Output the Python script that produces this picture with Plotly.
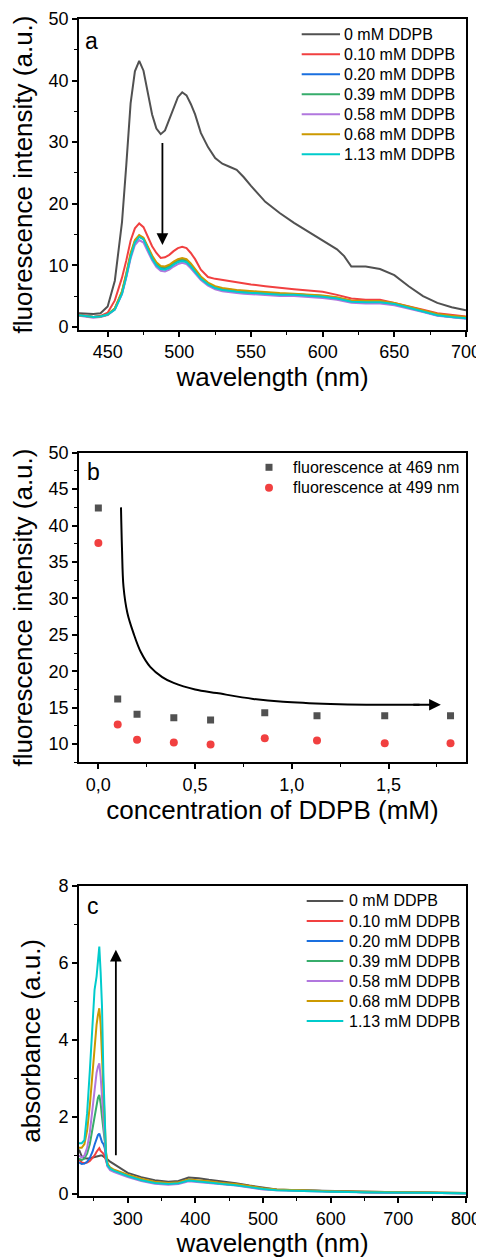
import plotly.graph_objects as go

FONT = "Liberation Sans, Arial, sans-serif"
COLORS = ["#515151", "#F14040", "#1A6FDF", "#37AD6B", "#B177DE", "#CC9900", "#00CBCC"]
LABELS = ["0 mM DDPB", "0.10 mM DDPB", "0.20 mM DDPB", "0.39 mM DDPB",
          "0.58 mM DDPB", "0.68 mM DDPB", "1.13 mM DDPB"]

# ---------- panel a: fluorescence spectra ----------
wl_a = [430, 440, 445, 450, 455, 460, 463, 466, 469, 472, 475, 478, 481, 484, 487, 490,
        493, 496, 499, 502, 505, 508, 511, 515, 520, 525, 530, 535, 540, 545, 550, 560,
        570, 580, 590, 600, 610, 615, 620, 630, 640, 650, 660, 670, 680, 690, 700]
fl_0 = [2.2, 2.1, 2.2, 3.3, 7.5, 17.0, 26.3, 36.3, 41.5, 43.2, 41.6, 37.8, 34.5, 32.2, 31.3, 31.9,
        33.6, 35.6, 37.3, 38.1, 37.6, 36.2, 34.5, 31.5, 29.2, 27.4, 26.5, 26.0, 25.5, 24.3, 22.9, 20.3,
        18.5, 16.9, 15.5, 14.0, 12.6, 11.5, 9.8, 9.8, 9.4, 8.4, 6.6, 5.0, 3.9, 3.2, 2.7]
fl_010 = [2.0, 1.6, 1.8, 2.3, 4.3, 8.0, 10.8, 14.0, 16.0, 16.8, 16.2, 14.6, 13.1, 12.0, 11.2, 11.3,
          11.7, 12.3, 12.8, 13.0, 12.8, 12.0, 11.0, 9.3, 8.1, 7.8, 7.6, 7.5, 7.3, 7.1, 6.9, 6.6,
          6.3, 6.1, 5.9, 5.7, 5.2, 4.9, 4.6, 4.4, 4.4, 3.9, 3.4, 2.8, 2.2, 1.9, 1.7]
fl_020 = [1.9, 1.6, 1.7, 2.0, 2.9, 5.5, 8.3, 11.5, 13.8, 14.7, 14.3, 12.8, 11.3, 10.2, 9.6, 9.5,
          9.8, 10.3, 10.7, 10.9, 10.7, 10.0, 9.1, 7.9, 7.0, 6.5, 6.2, 6.0, 5.9, 5.8, 5.7, 5.5,
          5.4, 5.3, 5.2, 5.0, 4.7, 4.5, 4.2, 4.1, 4.0, 3.7, 3.1, 2.5, 1.9, 1.6, 1.4]
fl_039 = [1.9, 1.6, 1.7, 2.0, 3.0, 5.7, 8.5, 11.7, 13.9, 14.8, 14.3, 12.9, 11.4, 10.3, 9.7, 9.6,
          9.9, 10.4, 10.8, 11.0, 10.8, 10.1, 9.2, 8.0, 7.0, 6.4, 6.1, 5.9, 5.8, 5.7, 5.6, 5.4,
          5.3, 5.3, 5.2, 5.0, 4.7, 4.5, 4.2, 4.1, 4.1, 3.8, 3.2, 2.6, 2.0, 1.7, 1.5]
fl_058 = [1.8, 1.5, 1.6, 1.9, 2.8, 5.3, 8.0, 11.1, 13.3, 14.1, 13.7, 12.3, 10.8, 9.7, 9.1, 9.0,
          9.3, 9.8, 10.2, 10.4, 10.2, 9.5, 8.7, 7.6, 6.7, 6.1, 5.8, 5.6, 5.5, 5.4, 5.3, 5.1,
          5.0, 5.0, 4.9, 4.7, 4.4, 4.2, 3.9, 3.8, 3.8, 3.5, 3.0, 2.4, 1.8, 1.5, 1.3]
fl_068 = [1.9, 1.6, 1.7, 2.0, 3.0, 5.8, 8.7, 12.0, 14.1, 14.9, 14.5, 13.1, 11.6, 10.5, 9.9, 9.8,
          10.1, 10.6, 11.0, 11.2, 11.0, 10.3, 9.4, 8.2, 7.2, 6.6, 6.3, 6.1, 6.0, 5.9, 5.8, 5.6,
          5.5, 5.4, 5.3, 5.1, 4.8, 4.6, 4.3, 4.2, 4.2, 3.9, 3.3, 2.7, 2.1, 1.8, 1.6]
fl_113 = [1.9, 1.6, 1.7, 2.0, 2.8, 5.4, 8.2, 11.4, 13.7, 14.6, 14.2, 12.7, 11.1, 10.0, 9.4, 9.3,
          9.6, 10.1, 10.5, 10.7, 10.5, 9.8, 8.9, 7.8, 6.9, 6.3, 6.0, 5.8, 5.7, 5.6, 5.5, 5.3,
          5.2, 5.2, 5.1, 4.9, 4.6, 4.4, 4.1, 4.0, 4.0, 3.7, 3.1, 2.5, 1.9, 1.6, 1.4]

# ---------- panel b: intensity vs concentration ----------
conc = [0.0, 0.10, 0.20, 0.39, 0.58, 0.86, 1.13, 1.48, 1.82]
f469 = [42.4, 16.2, 14.1, 13.6, 13.3, 14.3, 13.9, 13.9, 13.9]
f499 = [37.6, 12.7, 10.6, 10.2, 9.95, 10.8, 10.5, 10.1, 10.1]
b_legend = ["fluorescence at 469 nm", "fluorescence at 499 nm"]
# guide curve (decoration)
guide_x = [0.117, 0.122, 0.13, 0.15, 0.182, 0.22, 0.268, 0.33, 0.389, 0.5, 0.612, 0.8, 0.955, 1.2, 1.385, 1.66]
guide_y = [42.5, 37.0, 31.6, 28.0, 25.2, 22.6, 20.6, 19.2, 18.4, 17.5, 17.0, 16.2, 15.8, 15.5, 15.4, 15.4]

# ---------- panel c: absorbance spectra ----------
wl_c = [228, 232, 236, 240, 244, 248, 251, 254, 256, 258, 260, 262, 264, 266, 268, 270, 274, 280,
        290, 300, 320, 340, 360, 375, 390, 405, 420, 440, 460, 480, 500, 520, 550, 600, 650, 700, 750, 800]
ab_0 = [1.15, 0.98, 0.93, 0.92, 0.93, 0.95, 0.97, 0.99, 1.0, 1.01, 1.0, 1.0, 0.98, 0.95, 0.92, 0.9, 0.84, 0.77,
        0.65, 0.55, 0.44, 0.36, 0.32, 0.34, 0.43, 0.41, 0.37, 0.33, 0.28, 0.22, 0.16, 0.12, 0.1, 0.08, 0.06, 0.05, 0.04, 0.03]
ab_010 = [0.9, 0.82, 0.8, 0.82, 0.86, 0.93, 1.0, 1.1, 1.16, 1.19, 1.12, 1.08, 1.05, 0.98, 0.85, 0.74, 0.66, 0.6,
          0.53, 0.47, 0.37, 0.3, 0.27, 0.29, 0.36, 0.34, 0.31, 0.27, 0.24, 0.19, 0.14, 0.11, 0.09, 0.07, 0.05, 0.04, 0.03, 0.02]
ab_020 = [0.82, 0.78, 0.79, 0.84, 0.94, 1.1, 1.28, 1.45, 1.53, 1.57, 1.45, 1.35, 1.3, 1.2, 0.95, 0.76, 0.66, 0.6,
          0.53, 0.47, 0.37, 0.3, 0.27, 0.29, 0.36, 0.34, 0.31, 0.27, 0.24, 0.19, 0.14, 0.11, 0.09, 0.07, 0.05, 0.04, 0.03, 0.02]
ab_039 = [0.92, 0.88, 0.92, 1.05, 1.3, 1.7, 2.05, 2.35, 2.5, 2.57, 2.35, 2.0, 1.7, 1.35, 0.98, 0.78, 0.66, 0.6,
          0.53, 0.47, 0.37, 0.3, 0.27, 0.29, 0.36, 0.34, 0.31, 0.27, 0.24, 0.19, 0.14, 0.11, 0.09, 0.07, 0.05, 0.04, 0.03, 0.02]
ab_058 = [1.0, 0.95, 1.0, 1.2, 1.6, 2.2, 2.75, 3.15, 3.3, 3.39, 3.05, 2.5, 1.9, 1.4, 0.95, 0.72, 0.62, 0.57,
          0.5, 0.44, 0.34, 0.27, 0.24, 0.26, 0.33, 0.31, 0.28, 0.25, 0.22, 0.17, 0.12, 0.1, 0.08, 0.06, 0.05, 0.04, 0.03, 0.02]
ab_068 = [1.2, 1.2, 1.3, 1.65, 2.3, 3.1, 3.9, 4.4, 4.65, 4.82, 4.4, 3.6, 2.6, 1.7, 1.05, 0.8, 0.69, 0.63,
          0.56, 0.5, 0.4, 0.32, 0.29, 0.31, 0.38, 0.36, 0.33, 0.29, 0.26, 0.21, 0.15, 0.12, 0.1, 0.07, 0.06, 0.05, 0.04, 0.03]
ab_113 = [1.32, 1.32, 1.4, 2.1, 3.2, 4.4, 5.3, 5.65, 6.0, 6.42, 5.75, 4.87, 3.14, 1.75, 0.95, 0.75, 0.66, 0.6,
          0.53, 0.47, 0.36, 0.29, 0.26, 0.28, 0.35, 0.33, 0.3, 0.26, 0.23, 0.18, 0.13, 0.1, 0.08, 0.06, 0.05, 0.04, 0.03, 0.02]

fl_series = [fl_0, fl_010, fl_020, fl_039, fl_058, fl_068, fl_113]
ab_series = [ab_0, ab_010, ab_020, ab_039, ab_058, ab_068, ab_113]

fig = go.Figure()
for lab, col, ys in zip(LABELS, COLORS, fl_series):
    fig.add_trace(go.Scatter(x=wl_a, y=ys, mode="lines", name=lab, line=dict(color=col, width=2),
                             xaxis="x", yaxis="y", showlegend=False))

fig.add_trace(go.Scatter(x=conc, y=f469, mode="markers", name=b_legend[0],
                         marker=dict(symbol="square", size=7, color="#515151"),
                         xaxis="x2", yaxis="y2", showlegend=False))
fig.add_trace(go.Scatter(x=conc, y=f499, mode="markers", name=b_legend[1],
                         marker=dict(symbol="circle", size=8, color="#F14040"),
                         xaxis="x2", yaxis="y2", showlegend=False))
fig.add_trace(go.Scatter(x=guide_x, y=guide_y, mode="lines", line=dict(color="black", width=2, shape="spline"),
                         showlegend=False, hoverinfo="skip", xaxis="x2", yaxis="y2"))

for lab, col, ys in zip(LABELS, COLORS, ab_series):
    fig.add_trace(go.Scatter(x=wl_c, y=ys, mode="lines", name=lab, line=dict(color=col, width=2),
                             xaxis="x3", yaxis="y3", showlegend=False))


def ax(rng, dtick, mdtick, domain=None, anchor=None, title=None, standoff=None):
    d = dict(range=rng, dtick=dtick, showline=True, linecolor="black", linewidth=1.8, mirror=True,
             ticks="outside", ticklen=5, tickwidth=1.5, tickcolor="black", showgrid=False, zeroline=False,
             automargin=False,
             tickfont=dict(family=FONT, size=18, color="black"),
             minor=dict(ticks="outside", ticklen=3, tickwidth=1.2, tickcolor="black", dtick=mdtick, showgrid=False))
    if domain is not None:
        d["domain"] = domain
    if anchor is not None:
        d["anchor"] = anchor
    if title is not None:
        d["title"] = dict(text=title, font=dict(family=FONT, size=26, color="black"), standoff=standoff)
    return d


da = [0.7358, 1.0]
db = [0.3685, 0.6315]
dc = [0.0, 0.2636]

# reference-pixel -> paper conversion (plot area spans x 79..466, y 19..1196 in reference pixels)
L, W = 79, 387
def px2x(p):
    return (p - L) / W
def py2y(p):
    return (1196 - p) / 1177

fig.update_layout(
    template="none",
    width=476, height=1250,
    margin=dict(l=71, r=18, t=11, b=62, autoexpand=False),
    paper_bgcolor="white", plot_bgcolor="white",
    separators=",.",
    showlegend=False,
    xaxis=ax([430, 700], 50, 25, anchor="y", title="wavelength (nm)", standoff=3),
    yaxis=ax([-0.5, 50], 10, 5, domain=da, anchor="x", title="fluorescence intensity (a.u.)", standoff=10),
    xaxis2=ax([-0.1, 1.9], 0.5, 0.25, anchor="y2", title="concentration of DDPB (mM)", standoff=3),
    yaxis2=ax([7.5, 50], 5, 2.5, domain=db, anchor="x2", title="fluorescence intensity (a.u.)", standoff=10),
    xaxis3=ax([228, 800], 100, 50, anchor="y3", title="wavelength (nm)", standoff=3),
    yaxis3=ax([-0.05, 8], 2, 1, domain=dc, anchor="x3", title="absorbance (a.u.)", standoff=10),
)
fig.layout.xaxis2.tickformat = ".1f"

LEG_FONT = dict(family=FONT, size=16, color="black")

# legends for panels a and c (line samples + labels)
for (lx0, lx1, tx, ty0) in [(301.7, 340.0, 342.0, 34.3), (306.7, 343.3, 347.0, 901.0)]:
    for i, (lab, col) in enumerate(zip(LABELS, COLORS)):
        yy = py2y(ty0 + 20 * i)
        fig.add_shape(type="line", xref="paper", yref="paper", x0=px2x(lx0), x1=px2x(lx1), y0=yy, y1=yy,
                      line=dict(color=col, width=2))
        fig.add_annotation(text=lab, xref="paper", yref="paper", x=px2x(tx), y=yy, xanchor="left",
                           yanchor="middle", showarrow=False, font=LEG_FONT)

# legend for panel b (marker samples + labels)
for i, (lab, col, kind, sz) in enumerate(zip(b_legend, ["#515151", "#F14040"], ["rect", "circle"], [7, 8])):
    cy = 467.3 + 20.4 * i
    cx = 269.0
    fig.add_shape(type=kind, xref="paper", yref="paper",
                  x0=px2x(cx - sz / 2), x1=px2x(cx + sz / 2), y0=py2y(cy + sz / 2), y1=py2y(cy - sz / 2),
                  fillcolor=col, line=dict(width=0))
    fig.add_annotation(text=lab, xref="paper", yref="paper", x=px2x(290.5), y=py2y(cy), xanchor="left",
                       yanchor="middle", showarrow=False, font=LEG_FONT)

# panel labels
for txt, px, py in [("a", 91.7, 41.0), ("b", 93.7, 472.4), ("c", 93.3, 905.8)]:
    fig.add_annotation(text=txt, x=px2x(px), y=py2y(py), xref="paper", yref="paper",
                       showarrow=False, xanchor="center", yanchor="middle",
                       font=dict(family=FONT, size=23, color="black"))

# arrows
fig.add_annotation(x=488.2, y=13.3, ax=488.2, ay=30.1, xref="x", yref="y", axref="x", ayref="y",
                   showarrow=True, arrowhead=2, arrowsize=1.3, arrowwidth=1.8, arrowcolor="black", text="")
fig.add_annotation(x=1.77, y=15.4, ax=1.62, ay=15.4, xref="x2", yref="y2", axref="x2", ayref="y2",
                   showarrow=True, arrowhead=2, arrowsize=1.3, arrowwidth=1.8, arrowcolor="black", text="")
fig.add_annotation(x=282.5, y=6.34, ax=282.5, ay=0.97, xref="x3", yref="y3", axref="x3", ayref="y3",
                   showarrow=True, arrowhead=2, arrowsize=1.3, arrowwidth=1.8, arrowcolor="black", text="")

fig.write_html("out.html")
